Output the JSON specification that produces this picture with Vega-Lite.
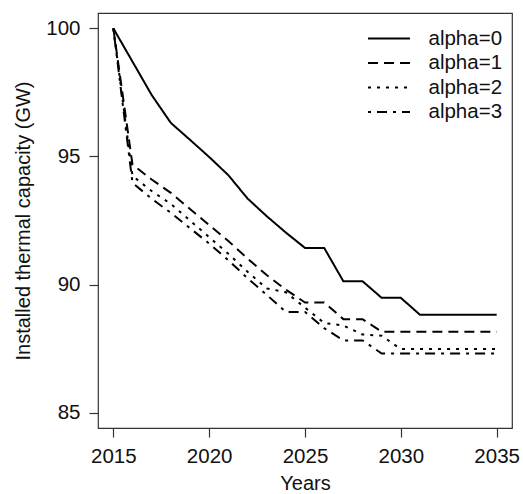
{
  "$schema": "https://vega.github.io/schema/vega-lite/v6.json",
  "width": 414,
  "height": 415,
  "autosize": "none",
  "padding": {"left": 98, "top": 13, "right": 11, "bottom": 66},
  "background": "white",
  "config": {
    "font": "Liberation Sans",
    "view": {"stroke": "#333333", "strokeWidth": 1.2},
    "axis": {"grid": false, "domain": false, "tickColor": "#333333", "tickWidth": 1.2, "tickSize": 9, "labelFontSize": 20.5, "titleFontSize": 20, "labelColor": "#111111", "titleColor": "#111111", "titleFontWeight": "normal", "labelPadding": 9}
  },
  "data": {
    "values": [
      {"year": 2015, "s": "alpha=0", "v": 100},
      {"year": 2016, "s": "alpha=0", "v": 98.7},
      {"year": 2017, "s": "alpha=0", "v": 97.4},
      {"year": 2018, "s": "alpha=0", "v": 96.31},
      {"year": 2019, "s": "alpha=0", "v": 95.65},
      {"year": 2020, "s": "alpha=0", "v": 94.98},
      {"year": 2021, "s": "alpha=0", "v": 94.27},
      {"year": 2022, "s": "alpha=0", "v": 93.36},
      {"year": 2023, "s": "alpha=0", "v": 92.67},
      {"year": 2024, "s": "alpha=0", "v": 92.03},
      {"year": 2025, "s": "alpha=0", "v": 91.43},
      {"year": 2026, "s": "alpha=0", "v": 91.43},
      {"year": 2027, "s": "alpha=0", "v": 90.13},
      {"year": 2028, "s": "alpha=0", "v": 90.13},
      {"year": 2029, "s": "alpha=0", "v": 89.48},
      {"year": 2030, "s": "alpha=0", "v": 89.48},
      {"year": 2031, "s": "alpha=0", "v": 88.82},
      {"year": 2032, "s": "alpha=0", "v": 88.82},
      {"year": 2033, "s": "alpha=0", "v": 88.82},
      {"year": 2034, "s": "alpha=0", "v": 88.82},
      {"year": 2035, "s": "alpha=0", "v": 88.82},
      {"year": 2015, "s": "alpha=1", "v": 100},
      {"year": 2016, "s": "alpha=1", "v": 94.68},
      {"year": 2017, "s": "alpha=1", "v": 94.1},
      {"year": 2018, "s": "alpha=1", "v": 93.58},
      {"year": 2019, "s": "alpha=1", "v": 92.95},
      {"year": 2020, "s": "alpha=1", "v": 92.32},
      {"year": 2021, "s": "alpha=1", "v": 91.7},
      {"year": 2022, "s": "alpha=1", "v": 91.02},
      {"year": 2023, "s": "alpha=1", "v": 90.37},
      {"year": 2024, "s": "alpha=1", "v": 89.8},
      {"year": 2025, "s": "alpha=1", "v": 89.3},
      {"year": 2026, "s": "alpha=1", "v": 89.3},
      {"year": 2027, "s": "alpha=1", "v": 88.65},
      {"year": 2028, "s": "alpha=1", "v": 88.65},
      {"year": 2029, "s": "alpha=1", "v": 88.16},
      {"year": 2030, "s": "alpha=1", "v": 88.16},
      {"year": 2031, "s": "alpha=1", "v": 88.16},
      {"year": 2032, "s": "alpha=1", "v": 88.16},
      {"year": 2033, "s": "alpha=1", "v": 88.16},
      {"year": 2034, "s": "alpha=1", "v": 88.16},
      {"year": 2035, "s": "alpha=1", "v": 88.16},
      {"year": 2015, "s": "alpha=2", "v": 100},
      {"year": 2016, "s": "alpha=2", "v": 94.24},
      {"year": 2017, "s": "alpha=2", "v": 93.65},
      {"year": 2018, "s": "alpha=2", "v": 93.15},
      {"year": 2019, "s": "alpha=2", "v": 92.5},
      {"year": 2020, "s": "alpha=2", "v": 91.85},
      {"year": 2021, "s": "alpha=2", "v": 91.2},
      {"year": 2022, "s": "alpha=2", "v": 90.5},
      {"year": 2023, "s": "alpha=2", "v": 89.85},
      {"year": 2024, "s": "alpha=2", "v": 89.7},
      {"year": 2025, "s": "alpha=2", "v": 89.1},
      {"year": 2026, "s": "alpha=2", "v": 88.5},
      {"year": 2027, "s": "alpha=2", "v": 88.4},
      {"year": 2028, "s": "alpha=2", "v": 88.05},
      {"year": 2029, "s": "alpha=2", "v": 88.0},
      {"year": 2030, "s": "alpha=2", "v": 87.48},
      {"year": 2031, "s": "alpha=2", "v": 87.48},
      {"year": 2032, "s": "alpha=2", "v": 87.48},
      {"year": 2033, "s": "alpha=2", "v": 87.48},
      {"year": 2034, "s": "alpha=2", "v": 87.48},
      {"year": 2035, "s": "alpha=2", "v": 87.48},
      {"year": 2015, "s": "alpha=3", "v": 100},
      {"year": 2016, "s": "alpha=3", "v": 93.97},
      {"year": 2017, "s": "alpha=3", "v": 93.35},
      {"year": 2018, "s": "alpha=3", "v": 92.8},
      {"year": 2019, "s": "alpha=3", "v": 92.2},
      {"year": 2020, "s": "alpha=3", "v": 91.6},
      {"year": 2021, "s": "alpha=3", "v": 90.95},
      {"year": 2022, "s": "alpha=3", "v": 90.25},
      {"year": 2023, "s": "alpha=3", "v": 89.6},
      {"year": 2024, "s": "alpha=3", "v": 88.93},
      {"year": 2025, "s": "alpha=3", "v": 88.93},
      {"year": 2026, "s": "alpha=3", "v": 88.3},
      {"year": 2027, "s": "alpha=3", "v": 87.82},
      {"year": 2028, "s": "alpha=3", "v": 87.82},
      {"year": 2029, "s": "alpha=3", "v": 87.31},
      {"year": 2030, "s": "alpha=3", "v": 87.31},
      {"year": 2031, "s": "alpha=3", "v": 87.31},
      {"year": 2032, "s": "alpha=3", "v": 87.31},
      {"year": 2033, "s": "alpha=3", "v": 87.31},
      {"year": 2034, "s": "alpha=3", "v": 87.31},
      {"year": 2035, "s": "alpha=3", "v": 87.31}
    ]
  },
  "mark": {"type": "line", "color": "black", "strokeWidth": 2, "clip": true},
  "encoding": {
    "x": {
      "field": "year", "type": "quantitative",
      "scale": {"domain": [2014.2, 2035.8], "nice": false, "zero": false},
      "axis": {"values": [2015, 2020, 2025, 2030, 2035], "format": "d", "title": "Years", "labelFlush": false, "titlePadding": 7}
    },
    "y": {
      "field": "v", "type": "quantitative",
      "scale": {"domain": [84.4, 100.6], "nice": false, "zero": false},
      "axis": {"values": [85, 90, 95, 100], "title": "Installed thermal capacity (GW)", "titlePadding": 12}
    },
    "strokeDash": {
      "field": "s", "type": "nominal",
      "scale": {"domain": ["alpha=0", "alpha=1", "alpha=2", "alpha=3"], "range": [[1, 0], [10, 6], [3, 6], [3, 6, 10, 6]]},
      "legend": {
        "title": null, "orient": "none", "legendX": 279.5, "legendY": 14, "padding": 0,
        "symbolType": "M-2,0H2", "symbolSize": 441, "symbolStrokeWidth": 2, "symbolStrokeColor": "black", "symbolFillColor": "transparent",
        "labelFontSize": 20.5, "labelColor": "#111111", "labelOffset": 28, "rowPadding": 2.5
      }
    }
  }
}
